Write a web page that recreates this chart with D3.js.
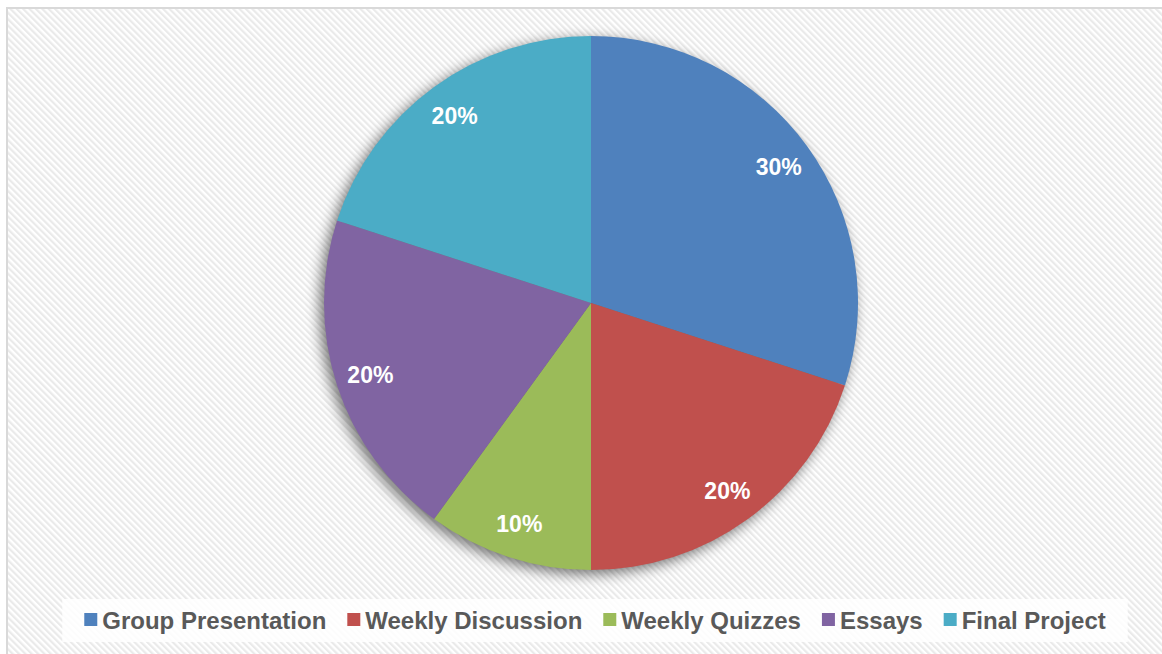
<!DOCTYPE html>
<html>
<head>
<meta charset="utf-8">
<script src="https://cdn.jsdelivr.net/npm/d3@7"></script>
<style>
  html, body { margin: 0; padding: 0; background: #fff; }
  svg { display: block; font-family: "Liberation Sans", Arial, sans-serif; }
</style>
</head>
<body>
<div id="chart"></div>
<script>
// chart data
const categories = ["Group Presentation", "Weekly Discussion", "Weekly Quizzes", "Essays", "Final Project"];
const shares = [30, 20, 10, 20, 20];
const colors = ["#4F81BD", "#C0504D", "#9BBB59", "#8064A2", "#4BACC6"];

const width = 1162, height = 654;
const cx = 591, cy = 303, radius = 267;

const svg = d3.select("#chart")
  .append("svg")
    .attr("width", width)
    .attr("height", height);

const defs = svg.append("defs");

// diagonal hatch background
const pat = defs.append("pattern")
    .attr("id", "hatch")
    .attr("patternUnits", "userSpaceOnUse")
    .attr("width", 4.5)
    .attr("height", 4.5)
    .attr("patternTransform", "rotate(-45)");
pat.append("rect").attr("width", 4.5).attr("height", 4.5).attr("fill", "#ffffff");
pat.append("rect").attr("width", 2.2).attr("height", 4.5).attr("fill", "#eaeaea");

// soft shadow under the pie
const shadow = defs.append("filter")
    .attr("id", "shadow")
    .attr("x", "-20%").attr("y", "-20%")
    .attr("width", "140%").attr("height", "140%");
shadow.append("feGaussianBlur").attr("in", "SourceAlpha").attr("stdDeviation", 7);
shadow.append("feOffset").attr("dx", -4).attr("dy", 4).attr("result", "off");
shadow.append("feComponentTransfer")
  .append("feFuncA").attr("type", "linear").attr("slope", 0.55);

// chart frame
svg.append("rect")
    .attr("x", 7)
    .attr("y", 8)
    .attr("width", width + 10)
    .attr("height", height + 10)
    .attr("fill", "url(#hatch)")
    .attr("stroke", "#d9d9d9")
    .attr("stroke-width", 2);

const data = categories.map((c, i) => ({name: c, value: shares[i], color: colors[i]}));

const pie = d3.pie()
    .value(d => d.value)
    .sort(null);

const arc = d3.arc().innerRadius(0).outerRadius(radius);
const labelArc = d3.arc().innerRadius(232).outerRadius(232);

const g = svg.append("g").attr("transform", `translate(${cx},${cy})`);

// shadow disc
g.append("circle")
    .attr("r", radius)
    .attr("fill", "#000")
    .attr("filter", "url(#shadow)");

g.selectAll("path.slice")
  .data(pie(data))
  .join("path")
    .attr("class", "slice")
    .attr("d", arc)
    .attr("fill", d => d.data.color);

g.selectAll("text.lbl")
  .data(pie(data))
  .join("text")
    .attr("class", "lbl")
    .attr("transform", d => `translate(${labelArc.centroid(d)})`)
    .attr("text-anchor", "middle")
    .attr("dy", "0.36em")
    .attr("fill", "#ffffff")
    .style("font-weight", "bold")
    .style("font-size", "23px")
    .text(d => d.data.value + "%");

// legend
const legendY = 620;
const legend = svg.append("g");
const bg = legend.append("rect")
    .attr("y", 599)
    .attr("height", 43)
    .attr("fill", "#ffffff")
    .attr("opacity", 0.85);

const items = legend.selectAll("g.item")
  .data(data)
  .join("g")
    .attr("class", "item");

items.append("rect")
    .attr("width", 13)
    .attr("height", 13)
    .attr("y", legendY - 7)
    .attr("fill", d => d.color);

items.append("text")
    .attr("x", 18)
    .attr("y", legendY)
    .attr("dy", "0.36em")
    .attr("fill", "#595959")
    .style("font-weight", "bold")
    .style("font-size", "24px")
    .text(d => d.name);

const gap = 21;
let widths = [];
items.each(function() {
  widths.push(18 + d3.select(this).select("text").node().getComputedTextLength());
});
const total = d3.sum(widths) + gap * (widths.length - 1);
let x0 = 595 - total / 2;
items.attr("transform", (d, i) => {
  const x = x0 + d3.sum(widths.slice(0, i)) + gap * i;
  return `translate(${x},0)`;
});
bg.attr("x", x0 - 22).attr("width", total + 44);
</script>
</body>
</html>
